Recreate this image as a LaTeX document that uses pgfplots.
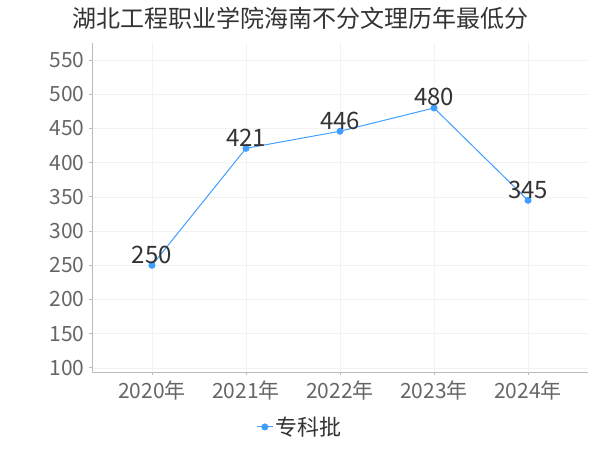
\documentclass[border=0pt]{standalone}
\usepackage{pgfplots}
\pgfplotsset{compat=1.18}
\usepackage{fontspec}
\setmainfont{Noto Sans CJK SC}
\definecolor{lineblue}{HTML}{409EFF}
\definecolor{tickgray}{HTML}{666666}
\definecolor{titlegray}{HTML}{333333}
\definecolor{gridgray}{HTML}{F2F2F2}
\definecolor{axisgray}{HTML}{BBBBBB}
\begin{document}
\begin{tikzpicture}
\path[use as bounding box] (0,0) rectangle (600bp,450bp);
\node[text=titlegray, font=\fontsize{24bp}{26bp}\selectfont] at (300bp,432bp) {湖北工程职业学院海南不分文理历年最低分};
\begin{axis}[
  at={(92bp,78bp)}, anchor=south west, scale only axis,
  width=496bp, height=329bp,
  xmin=-0.638, xmax=4.638, ymin=94, ymax=575,
  xtick={0,1,2,3,4},
  xticklabels={2020年,2021年,2022年,2023年,2024年},
  ytick={100,150,...,550},
  grid=major, grid style={draw=gridgray, line width=0.6pt},
  axis x line=bottom, axis y line=left,
  axis line style={-, draw=axisgray, line width=0.8pt},
  tick align=outside, major tick length=3bp,
  tick style={draw=axisgray, line width=0.8pt},
  ticklabel style={text=tickgray, font=\fontsize{21bp}{23bp}\selectfont},
  /pgf/number format/assume math mode=true,
  /pgf/number format/1000 sep={},
  xticklabel style={yshift=-2bp},
  yticklabel style={xshift=-1bp},
  legend style={at={(0.419,-0.167)}, anchor=center, draw=none, fill=none,
    font=\fontsize{22bp}{24bp}\selectfont, text=titlegray},
  legend image code/.code={\draw[mark repeat=2,mark phase=2,#1] plot coordinates {(0bp,0bp) (8bp,0bp) (16bp,0bp)};},
]
\addplot[color=lineblue, line width=1pt, mark=*, mark size=3bp,
  mark options={fill=lineblue, draw=lineblue},
  nodes near coords,
  nodes near coords style={text=titlegray, font=\fontsize{24bp}{26bp}\selectfont, anchor=base, yshift=2bp},
  /pgf/number format/assume math mode=true]
  coordinates {(0,250) (1,421) (2,446) (3,480) (4,345)};
\addlegendentry{专科批}
\end{axis}
\end{tikzpicture}
\end{document}
